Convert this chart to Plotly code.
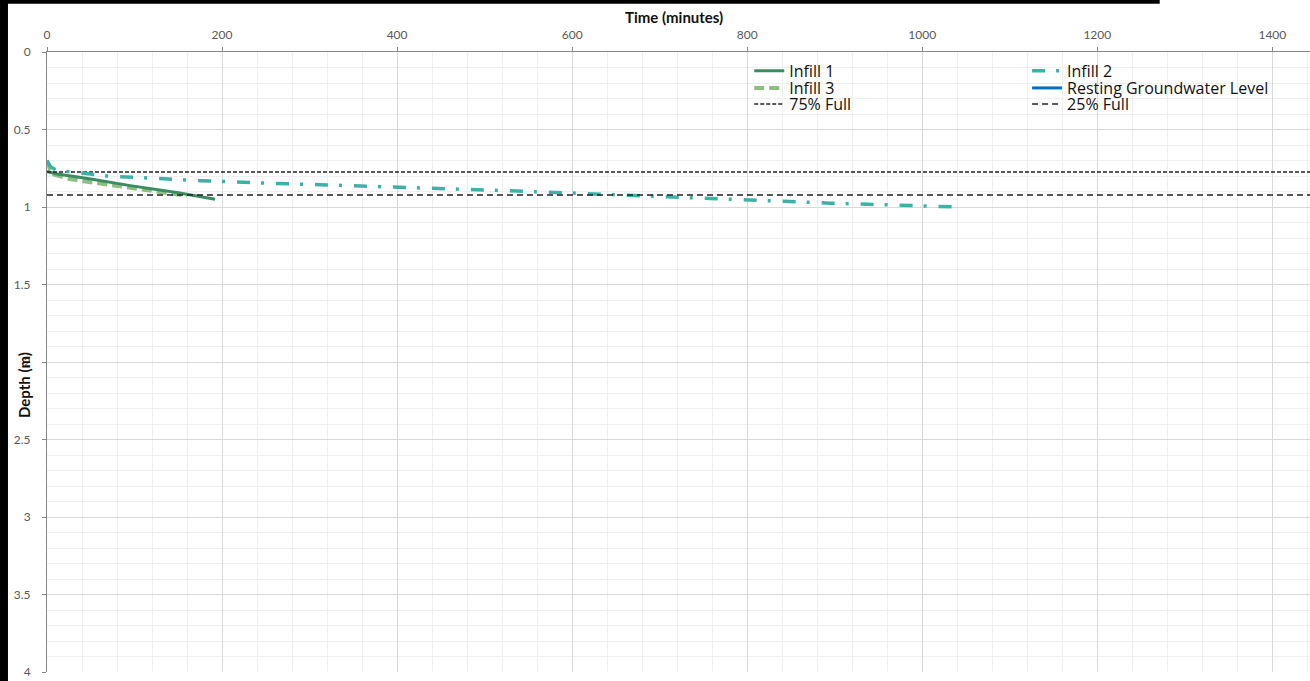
import plotly.graph_objects as go

# Infiltration test data (time in minutes, depth in m)
infill1_time = [0, 10, 50, 95, 150, 192]
infill1_depth = [0.77, 0.785, 0.82, 0.862, 0.908, 0.95]

infill2_time = [0, 4, 10, 22, 68, 129, 175, 247, 400, 500, 600, 715, 811, 895, 1041]
infill2_depth = [0.70, 0.74, 0.76, 0.77, 0.80, 0.82, 0.83, 0.845, 0.87, 0.89, 0.91, 0.935, 0.96, 0.975, 1.0]

infill3_time = [0, 3, 8, 26, 50, 83, 115, 148, 160]
infill3_depth = [0.70, 0.75, 0.79, 0.82, 0.84, 0.866, 0.89, 0.915, 0.928]

# resting groundwater level has no points inside the plotted range (legend only)
rest_time = [None]
rest_depth = [None]

level_time = [0, 1500]
full75_depth = [0.774, 0.774]
full25_depth = [0.923, 0.923]

FONT = "Lato"
LEGEND_FONT = "Open Sans"

fig = go.Figure()

fig.add_trace(go.Scatter(x=infill3_time, y=infill3_depth, mode="lines", name="Infill 3",
                         line=dict(color="#8DBF80", width=4, dash="10px,5px"), legend="legend3"))
fig.add_trace(go.Scatter(x=infill1_time, y=infill1_depth, mode="lines", name="Infill 1",
                         line=dict(color="#3B8C60", width=3), legend="legend2"))
fig.add_trace(go.Scatter(x=level_time, y=full75_depth, mode="lines", name="75% Full",
                         line=dict(color="#222222", width=1.5, dash="4px,2px"), legend="legend4"))
fig.add_trace(go.Scatter(x=infill2_time, y=infill2_depth, mode="lines", name="Infill 2",
                         line=dict(color="#3BB2A4", width=3.5, dash="13px,11px,3px,12px"), legend="legend5"))
fig.add_trace(go.Scatter(x=rest_time, y=rest_depth, mode="lines", name="Resting Groundwater Level",
                         line=dict(color="#0070C0", width=3), legend="legend6"))
fig.add_trace(go.Scatter(x=level_time, y=full25_depth, mode="lines", name="25% Full",
                         line=dict(color="#222222", width=1.5, dash="6px,4px"), legend="legend7"))

# axis titles as annotations so they can sit where the original places them
fig.add_annotation(text="<b>Time (minutes)</b>", xref="paper", yref="paper",
                   x=0.4968, y=1.056, xanchor="center", yanchor="middle", showarrow=False,
                   font=dict(family=FONT, size=15, color="#111"))
fig.add_annotation(text="<b>Depth (m)</b>", xref="paper", yref="paper", textangle=-90,
                   x=-0.0182, y=0.463, xanchor="center", yanchor="middle", showarrow=False,
                   font=dict(family=FONT, size=15, color="#111"))

# black frame bars along the top and left edges
fig.add_shape(type="rect", xref="paper", yref="paper", x0=-0.0372, x1=-0.0309, y0=-0.02, y1=1.0839,
              fillcolor="black", line_width=0, layer="above")
fig.add_shape(type="rect", xref="paper", yref="paper", x0=-0.0372, x1=0.881, y0=1.078, y1=1.0839,
              fillcolor="black", line_width=0, layer="above")

legend_style = dict(font=dict(family=LEGEND_FONT, size=16, color="#111"), bgcolor="rgba(0,0,0,0)",
                    itemwidth=30, yanchor="middle", xanchor="left")
col_x = [0.556, 0.776]
row_y = [0.9694, 0.9419, 0.9161]

fig.update_layout(
    width=1310, height=681,
    margin=dict(l=47, r=0, t=52, b=9),
    paper_bgcolor="white", plot_bgcolor="white",
    font=dict(family=FONT, size=12, color="#595959"),
    legend2=dict(x=col_x[0], y=row_y[0], **legend_style),
    legend3=dict(x=col_x[0], y=row_y[1], **legend_style),
    legend4=dict(x=col_x[0], y=row_y[2], **legend_style),
    legend5=dict(x=col_x[1], y=row_y[0], **legend_style),
    legend6=dict(x=col_x[1], y=row_y[1], **legend_style),
    legend7=dict(x=col_x[1], y=row_y[2], **legend_style),
    xaxis=dict(side="top", range=[0, 1443], dtick=200, showline=True, linecolor="#868686",
               ticks="outside", ticklen=4, tickcolor="#868686", ticklabelstandoff=3,
               showgrid=True, gridcolor="#d9d9d9", zeroline=False,
               minor=dict(dtick=40, showgrid=True, gridcolor="#efefef")),
    yaxis=dict(range=[4, 0], dtick=0.5, showline=True, linecolor="#868686",
               ticks="outside", ticklen=4, tickcolor="#868686", ticklabelstandoff=9,
               showgrid=True, gridcolor="#d9d9d9", zeroline=False,
               minor=dict(dtick=0.1, showgrid=True, gridcolor="#efefef")),
)

fig.write_html("out.html", config={"displayModeBar": False},
               post_script="document.body.style.margin='0';")
